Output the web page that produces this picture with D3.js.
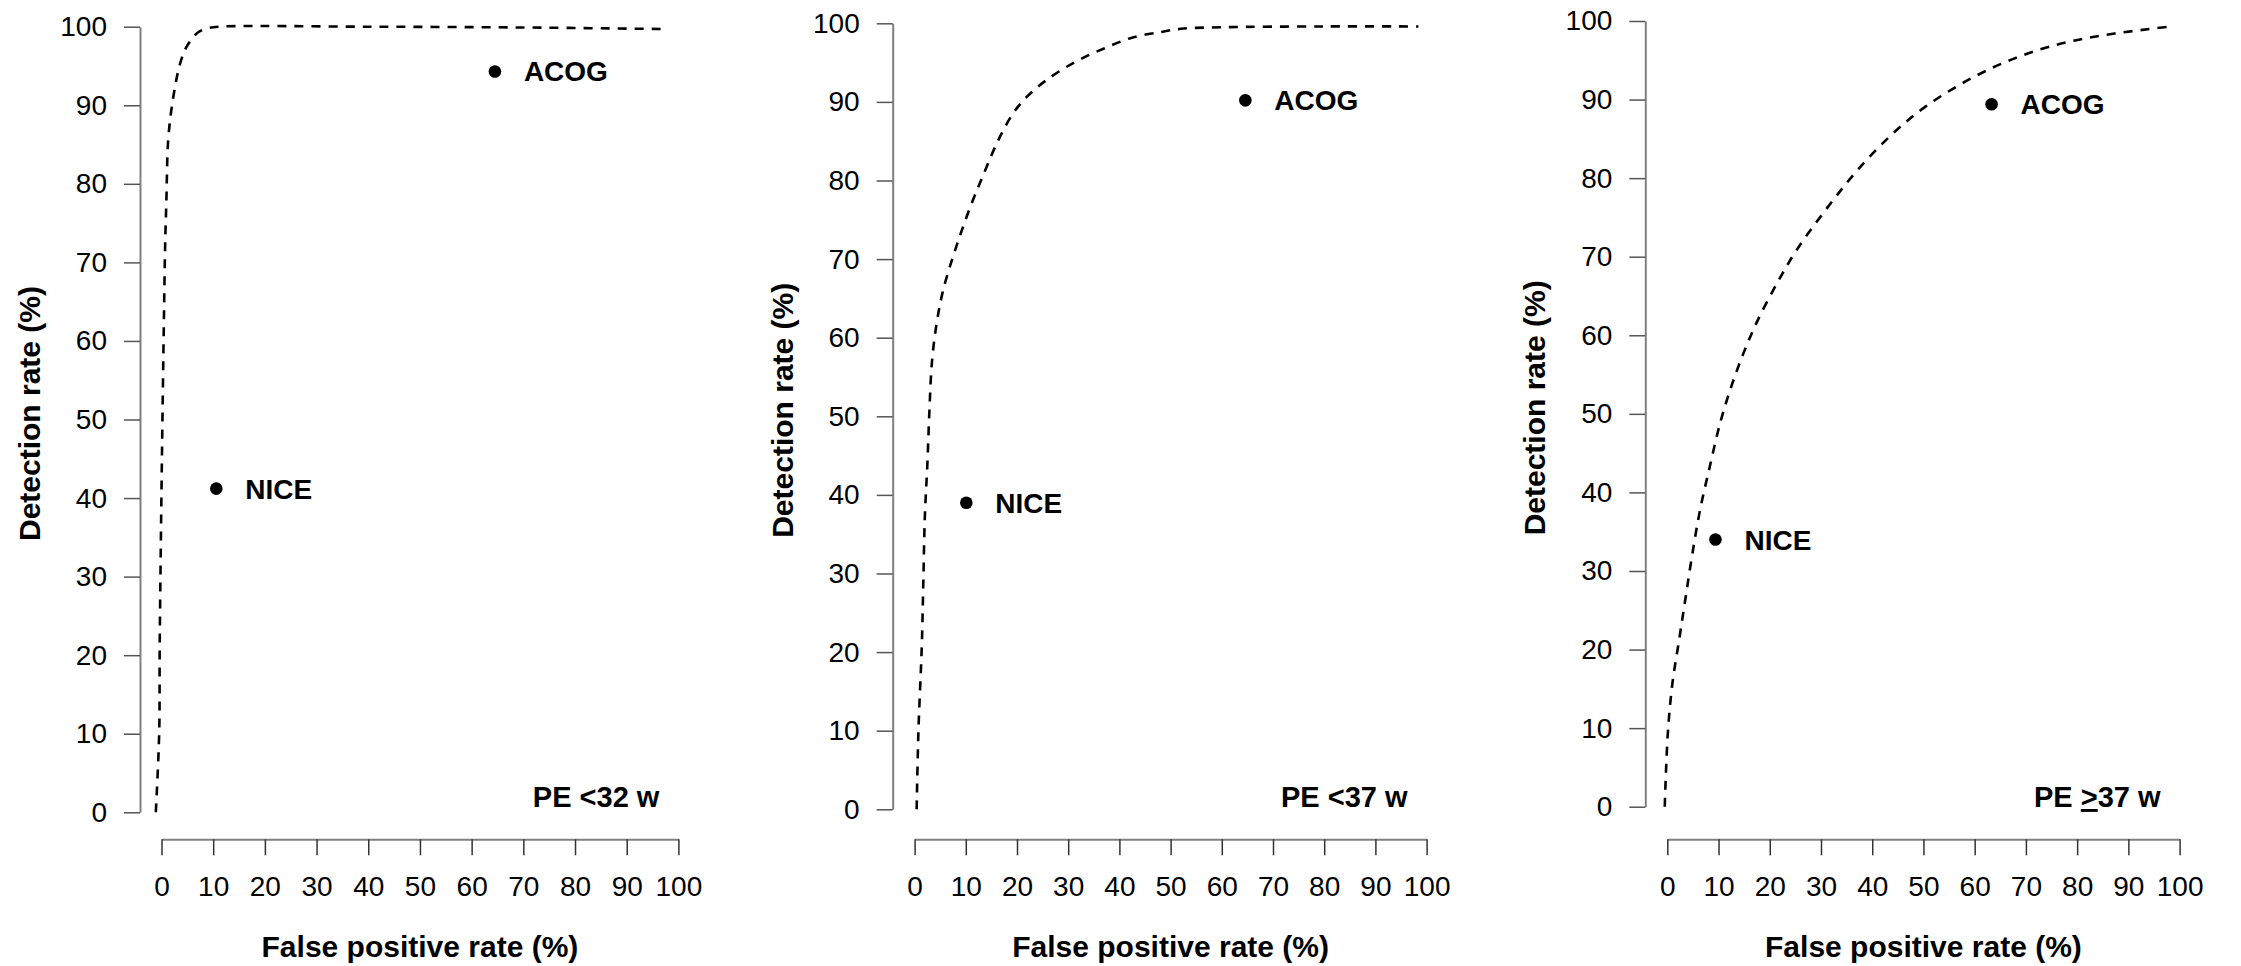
<!DOCTYPE html>
<html>
<head>
<meta charset="utf-8">
<script src="https://cdn.jsdelivr.net/npm/d3@7"></script>
<style>
  body { margin: 0; background: #fff; }
  svg { display: block; font-family: "Liberation Sans", Arial, sans-serif; }
</style>
</head>
<body>
<div id="chart"></div>
<script>
// tick values shared by both axes
const tickValues = [0, 10, 20, 30, 40, 50, 60, 70, 80, 90, 100];

// ROC curves, [false positive rate, detection rate]
const curveLt32 = [[-1.1, 0], [-0.45, 10], [-0.35, 21], [-0.15, 33], [0.1, 46], [0.45, 62], [0.7, 72],
  [0.95, 78], [1.3, 85.6], [2.2, 90.7], [3.6, 95.3], [4.9, 97.5], [7.1, 99.3], [9, 99.8], [11, 100],
  [40, 100], [70, 99.9], [97.3, 99.7]];
const curveLt37 = [[0.4, 0], [0.75, 10], [1.4, 20.7], [1.7, 28.8], [2.0, 37.2], [2.5, 44], [2.9, 50.8],
  [3.4, 57], [4.3, 61.8], [5.6, 66.1], [8, 71.3], [10.8, 76.5], [13.6, 81], [16.4, 85.2], [19.3, 88.6],
  [22, 90.7], [25.8, 92.8], [31.4, 95.1], [37, 96.8], [42.6, 98.2], [48.2, 98.9], [52, 99.3],
  [60, 99.5], [80, 99.6], [98.4, 99.6]];
const curveGe37 = [[-0.5, 0], [0.1, 9.3], [1.0, 15.7], [2.3, 21.2], [3.5, 26.3], [4.8, 31.8], [6.4, 37.8],
  [8.3, 43.3], [10.3, 48.8], [12.4, 53.3], [14.8, 57.6], [17.5, 61.7], [21.4, 66.6], [25.3, 70.9],
  [31.9, 76.8], [37.5, 81.3], [43.9, 85.6], [50.4, 89.1], [59.6, 92.8], [68.8, 95.5], [78, 97.3],
  [87.3, 98.4], [98.3, 99.3]];

// screening rules as single points
const nicePoints = [[10.6, 41.2], [10.1, 39.0], [9.4, 34.0]];
const acogPoints = [[64.5, 94.3], [64.6, 90.2], [63.3, 89.4]];

// panel labels: "PE" + sign + gestation
const signs = ["<", "<", ">"];
const signUnderlined = [false, false, true];
const gestation = ["32 w", "37 w", "37 w"];

const curves = [curveLt32, curveLt37, curveGe37];

// pixel frame of each panel
const frames = [
  {axisX: 140, x0: 161.5, x1: 678.4, y0: 812.3, y1: 26.7},
  {axisX: 892.7, x0: 914.6, x1: 1426.6, y0: 809.3, y1: 23.3},
  {axisX: 1645.3, x0: 1667.3, x1: 2179.6, y0: 806.7, y1: 21}
];
const xAxisY = 839.3;

const svg = d3.select("#chart").append("svg")
    .attr("width", 2241)
    .attr("height", 966);

frames.forEach((f, i) => {
  const x = d3.scaleLinear().domain([0, 100]).range([f.x0, f.x1]);
  const y = d3.scaleLinear().domain([0, 100]).range([f.y0, f.y1]);
  const g = svg.append("g");

  // y axis
  const ya = g.append("g")
      .attr("transform", "translate(" + f.axisX + ",0)")
      .call(d3.axisLeft(y).tickValues(tickValues).tickSize(16).tickSizeOuter(0).tickPadding(17));
  ya.select(".domain").attr("stroke", "#808080").attr("stroke-width", 2);
  ya.selectAll(".tick line").attr("stroke", "#555").attr("stroke-width", 1.5);
  ya.selectAll(".tick text").attr("font-size", 28).attr("fill", "#000")
      .attr("font-family", "Liberation Sans, Arial, sans-serif");

  // x axis
  const xa = g.append("g")
      .attr("transform", "translate(0," + xAxisY + ")")
      .call(d3.axisBottom(x).tickValues(tickValues).tickSize(16).tickSizeOuter(0).tickPadding(21));
  xa.select(".domain").attr("stroke", "#808080").attr("stroke-width", 2);
  xa.selectAll(".tick line").attr("stroke", "#333").attr("stroke-width", 1.5);
  xa.selectAll(".tick text").attr("font-size", 28).attr("fill", "#000")
      .attr("font-family", "Liberation Sans, Arial, sans-serif");

  // axis titles
  g.append("text")
      .attr("transform", "translate(" + (f.axisX - 100) + "," + ((f.y0 + f.y1) / 2 - 6) + ") rotate(-90)")
      .attr("text-anchor", "middle")
      .attr("font-size", 30)
      .attr("font-weight", "bold")
      .text("Detection rate (%)");

  g.append("text")
      .attr("x", (f.x0 + f.x1) / 2)
      .attr("y", 957)
      .attr("text-anchor", "middle")
      .attr("font-size", 30)
      .attr("font-weight", "bold")
      .text("False positive rate (%)");

  // dashed ROC curve
  const line = d3.line()
      .x(d => x(d[0]))
      .y(d => y(d[1]))
      .curve(d3.curveCatmullRom.alpha(0.5));

  g.append("path")
      .datum(curves[i])
      .attr("fill", "none")
      .attr("stroke", "#000")
      .attr("stroke-width", 2.6)
      .attr("stroke-dasharray", "9,8")
      .attr("d", line);

  // NICE and ACOG points
  [["NICE", nicePoints[i]], ["ACOG", acogPoints[i]]].forEach(([name, p]) => {
    g.append("circle")
        .attr("cx", x(p[0]))
        .attr("cy", y(p[1]))
        .attr("r", 6.3)
        .attr("fill", "#000");
    g.append("text")
        .attr("x", x(p[0]) + 29)
        .attr("y", y(p[1]) + 10)
        .attr("font-size", 28)
        .attr("font-weight", "bold")
        .text(name);
  });

  // panel label
  const lbl = g.append("text")
      .attr("x", f.x1 - 19)
      .attr("y", 807)
      .attr("text-anchor", "end")
      .attr("font-size", 29)
      .attr("font-weight", "bold");
  lbl.append("tspan").text("PE ");
  lbl.append("tspan")
      .attr("text-decoration", signUnderlined[i] ? "underline" : null)
      .text(signs[i]);
  lbl.append("tspan").text(gestation[i]);
});
</script>
</body>
</html>
